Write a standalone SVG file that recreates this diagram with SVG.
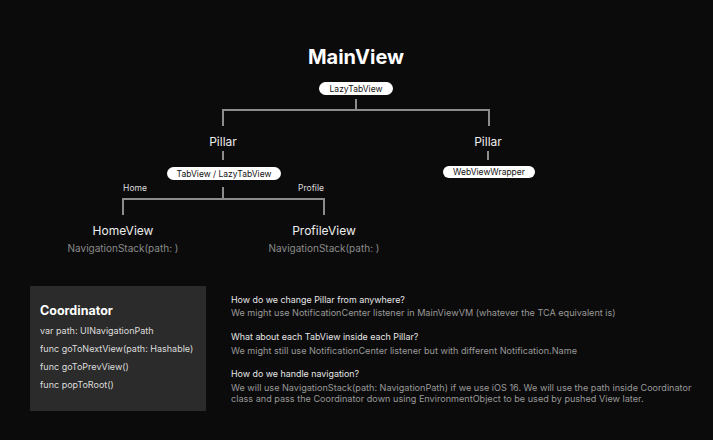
<svg xmlns="http://www.w3.org/2000/svg" width="713" height="440" viewBox="0 0 713 440">
<style>
text{font-family:Inter,"Liberation Sans",sans-serif}
.title{font-size:20px;font-weight:700;fill:#fff;text-anchor:middle}
.node{font-size:12px;fill:#eee;text-anchor:middle}
.pill{fill:#fff}
.pt{font-size:8.5px;fill:#111;text-anchor:middle}
.sub{font-size:10px;fill:#8a8a8a;text-anchor:middle}
.lab{font-size:8.5px;fill:#ddd;text-anchor:middle}
.conn{stroke:#8c8c8c;stroke-width:2;fill:none}
.ct{font-size:9px;fill:#ddd}
.q{font-size:8.9px;fill:#e6e6e6}
.a{font-size:9.1px;fill:#999}
</style>
<rect width="713" height="440" fill="#0b0b0b"/>
<g id="connectors">
<path class="conn" d="M356 99V110M223 126V110H489V126"/>
<path class="conn" d="M223 151V160M488 151V160"/>
<path class="conn" d="M223 187V199M123 215V199H324V215"/>
</g>
<g id="mainview">
<text class="title" x="356" y="64">MainView</text>
<rect class="pill" x="319" y="82" width="74" height="13" rx="6.5"/>
<text class="pt" x="356" y="91.5">LazyTabView</text>
</g>
<g id="pillar-left">
<text class="node" x="223" y="146">Pillar</text>
<rect class="pill" x="167" y="167" width="114" height="13" rx="6.5"/>
<text class="pt" x="224" y="176.5">TabView / LazyTabView</text>
</g>
<g id="pillar-right">
<text class="node" x="488" y="146">Pillar</text>
<rect class="pill" x="443" y="166" width="92" height="12" rx="6"/>
<text class="pt" x="489" y="175">WebViewWrapper</text>
</g>
<g id="labels">
<text class="lab" x="135" y="191">Home</text>
<text class="lab" x="311" y="191">Profile</text>
</g>
<g id="homeview">
<text class="node" x="123" y="235">HomeView</text>
<text class="sub" x="123" y="252">NavigationStack(path: )</text>
</g>
<g id="profileview">
<text class="node" x="324" y="235">ProfileView</text>
<text class="sub" x="324" y="252">NavigationStack(path: )</text>
</g>
<g id="coordinator">
<rect x="30" y="286" width="176" height="125" fill="#2b2b2b"/>
<text x="40" y="315" font-size="12.5" font-weight="700" fill="#fff">Coordinator</text>
<text class="ct" x="40" y="334">var path: UINavigationPath</text>
<text class="ct" x="40" y="352">func goToNextView(path: Hashable)</text>
<text class="ct" x="40" y="370">func goToPrevView()</text>
<text class="ct" x="40" y="388">func popToRoot()</text>
</g>
<g id="notes">
<text class="q" x="231" y="303">How do we change Pillar from anywhere?</text>
<text class="a" x="231" y="316">We might use NotificationCenter listener in MainViewVM (whatever the TCA equivalent is)</text>
<text class="q" x="231" y="340">What about each TabView inside each Pillar?</text>
<text class="a" x="231" y="354">We might still use NotificationCenter listener but with different Notification.Name</text>
<text class="q" x="231" y="377">How do we handle navigation?</text>
<text class="a" x="231" y="391">We will use NavigationStack(path: NavigationPath) if we use iOS 16. We will use the path inside Coordinator</text>
<text class="a" x="231" y="402">class and pass the Coordinator down using EnvironmentObject to be used by pushed View later.</text>
</g>
</svg>
